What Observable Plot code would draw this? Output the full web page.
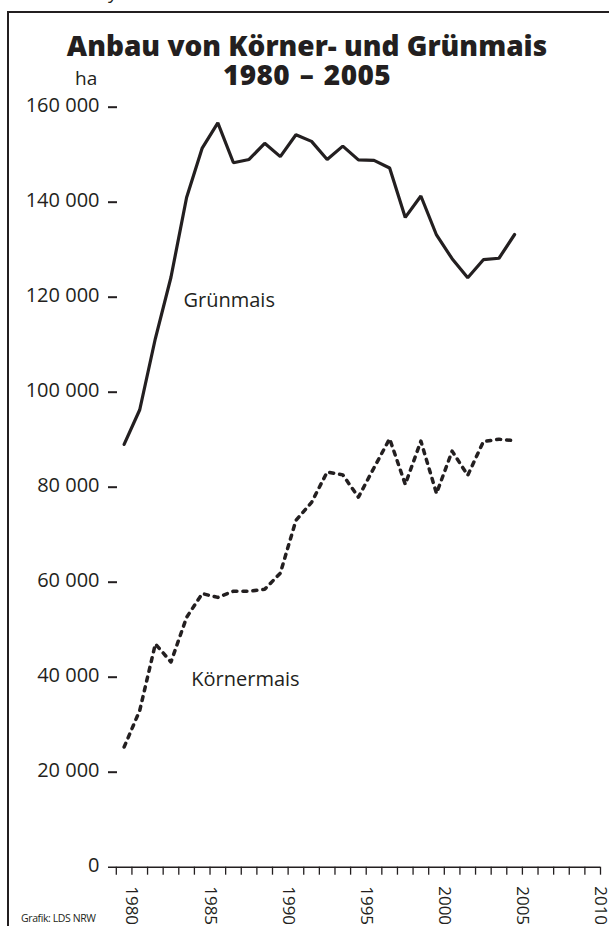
<!DOCTYPE html>
<html><head><meta charset="utf-8">
<script src="https://cdn.jsdelivr.net/npm/d3@7"></script>
<script src="https://cdn.jsdelivr.net/npm/@observablehq/plot@0.6"></script>
<style>
body{margin:0;background:#fff;font-family:"Open Sans",sans-serif;color:#231f20;}
#wrap{position:relative;width:609px;height:926px;overflow:hidden;}
#frame{position:absolute;left:7px;top:11px;width:700px;height:1000px;border-left:2.5px solid #231f20;border-top:2.5px solid #231f20;}
.t{position:absolute;white-space:nowrap;}
.title{left:0;width:614px;text-align:center;font-size:28px;font-weight:800;line-height:29px;}
#chart{position:absolute;left:0;top:0;}
</style></head><body>
<div id="wrap">
  <div id="frame"></div>
  <div id="chart"></div>
  <div class="t" style="left:108px;top:-17px;font-size:19px;line-height:19px;">y</div>
  <div class="t title" style="top:31px;">Anbau von Körner- und Grünmais</div>
  <div class="t title" style="top:60px;word-spacing:2px;letter-spacing:0.4px;">1980 – 2005</div>
  <div class="t" style="left:75px;top:69px;font-size:19px;line-height:19px;">ha</div>
  <div class="t" style="left:21px;top:912px;font-size:10.5px;line-height:12px;letter-spacing:-0.4px;">Grafik: LDS NRW</div>
</div>
<script>
const years = d3.range(1980, 2006);
const gruenmais = [89000, 96300, 111300, 124200, 141000, 151400, 156700, 148300, 149000, 152400, 149600, 154200, 152800, 149000, 151800, 148900, 148800, 147200, 136800, 141300, 133100, 128100, 124100, 127900, 128200, 133200];
const koernermais = [25300, 33000, 47000, 43200, 52600, 57600, 56800, 58100, 58100, 58500, 61900, 73000, 76800, 83200, 82600, 77900, 84100, 90200, 80600, 89700, 78700, 87600, 82500, 89600, 90100, 89800];
const yTicks = d3.range(0, 160001, 20000);
const xTicks = d3.range(1979, 2011);
const seriesNames = ["Grünmais", "Körnermais"];
const labelYears = [1983.3, 1983.8];
const labelValues = [119300, 39500];

const gData = years.map((y, i) => ({year: y, value: gruenmais[i]}));
const kData = years.map((y, i) => ({year: y, value: koernermais[i]}));
const labels = seriesNames.map((n, i) => ({name: n, x: labelYears[i], y: labelValues[i]}));

const fmt = d3.formatLocale({decimal: ",", thousands: " ", grouping: [3], currency: ["", "€"]}).format(",d");
const ink = "#231f20";

const plot = Plot.plot({
  width: 609, height: 926,
  marginLeft: 108, marginRight: 9, marginTop: 106.7, marginBottom: 59.3,
  style: {fontFamily: "Open Sans", color: ink, background: "transparent", overflow: "visible"},
  x: {domain: [1978.5, 2010]},
  y: {domain: [0, 160000]},
  marks: [
    Plot.axisY({ticks: yTicks, tickSize: 0, tickPadding: 9, tickFormat: fmt, fontSize: 20, dy: -2, label: null, style: "word-spacing:2px"}),
    Plot.axisY({ticks: yTicks.filter(v => v > 0), tickSize: 9, tickPadding: 0, dx: 9, tickFormat: () => "", strokeWidth: 2, label: null}),
    Plot.axisX({ticks: xTicks, tickSize: 8, tickPadding: 11, tickRotate: 90, tickFormat: d => d % 5 === 0 ? String(d) : "", fontSize: 17, strokeWidth: 1.3, label: null}),
    Plot.ruleY([0], {stroke: ink, strokeWidth: 1.6}),
    Plot.line(gData, {x: d => d.year - 0.5, y: "value", stroke: ink, strokeWidth: 3.2, strokeLinejoin: "miter"}),
    Plot.line(kData, {x: d => d.year - 0.5, y: "value", stroke: ink, strokeWidth: 3.5, strokeDasharray: "4,6", strokeLinecap: "round"}),
    Plot.text(labels, {x: "x", y: "y", text: "name", textAnchor: "start", fontSize: 20, fill: ink})
  ]
});
document.getElementById("chart").appendChild(plot);
</script>
</body></html>
